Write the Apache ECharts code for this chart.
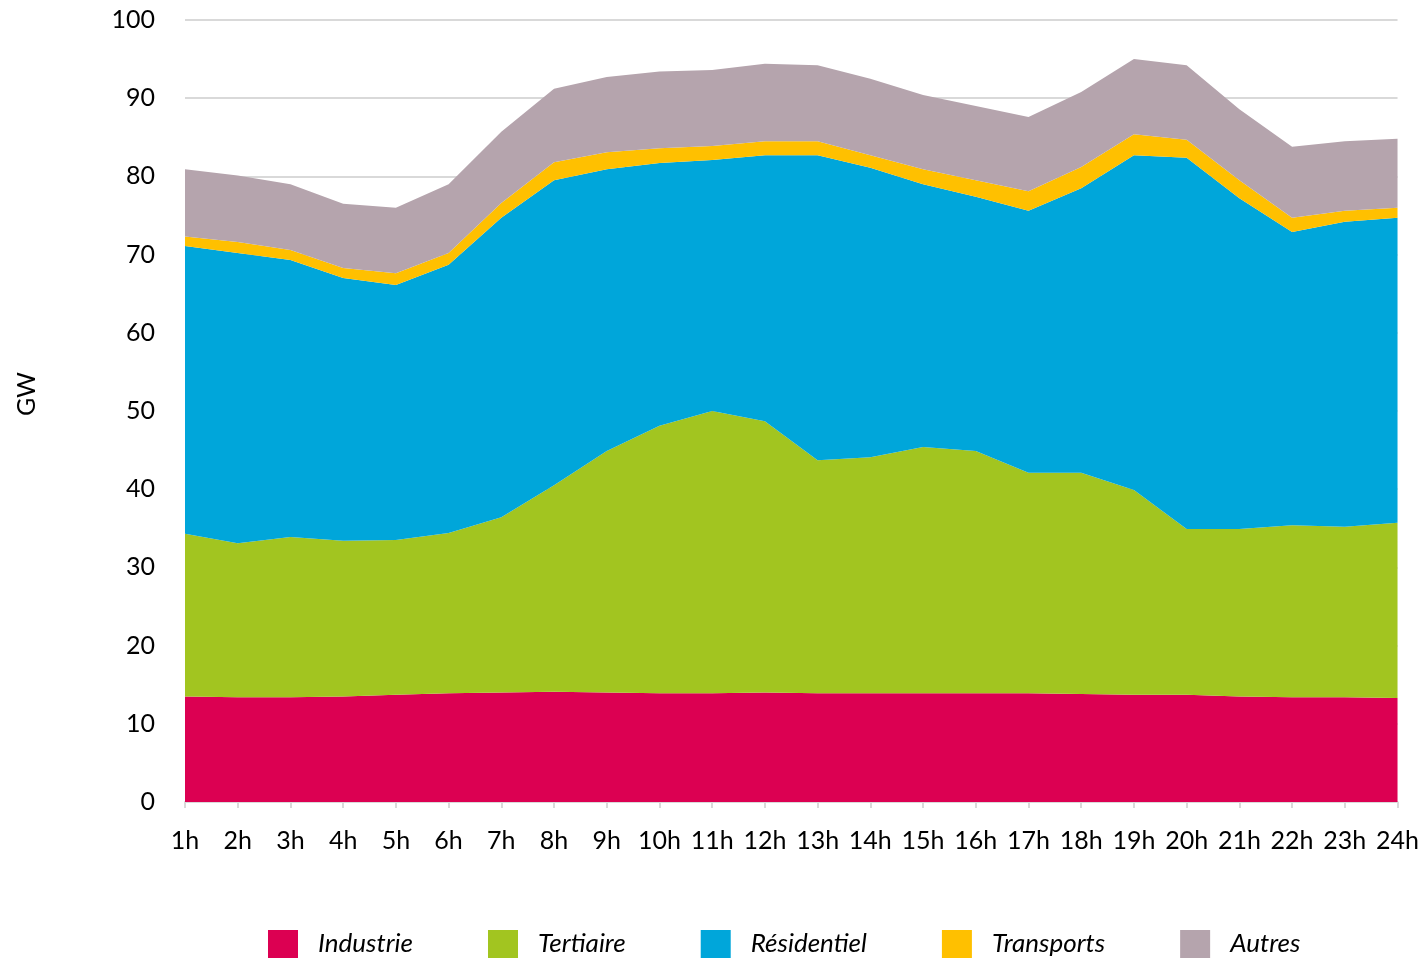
<!DOCTYPE html>
<html>
<head>
<meta charset="utf-8">
<script src="https://cdn.jsdelivr.net/npm/echarts@6/dist/echarts.min.js"></script>
<style>
html,body{margin:0;padding:0;background:#fff;}
#main{width:1422px;height:960px;}
</style>
</head>
<body>
<div id="main"></div>
<script>
var hours = ['1h','2h','3h','4h','5h','6h','7h','8h','9h','10h','11h','12h','13h','14h','15h','16h','17h','18h','19h','20h','21h','22h','23h','24h'];
var industrie = [13.5,13.4,13.4,13.5,13.7,13.9,14.0,14.1,14.0,13.9,13.9,14.0,13.9,13.9,13.9,13.9,13.9,13.8,13.7,13.7,13.5,13.4,13.4,13.3];
var tertiaire = [20.8,19.7,20.5,19.9,19.8,20.5,22.4,26.4,30.9,34.2,36.1,34.7,29.8,30.2,31.5,31.0,28.2,28.3,26.2,21.2,21.4,22.0,21.8,22.4];
var residentiel = [36.8,37.1,35.4,33.6,32.6,34.3,38.3,39.0,36.0,33.6,32.1,34.0,39.0,37.0,33.6,32.5,33.5,36.4,42.8,47.5,42.3,37.5,39.0,39.0];
var transports = [1.2,1.4,1.3,1.3,1.5,1.5,1.9,2.3,2.2,1.9,1.8,1.8,1.8,1.6,1.9,2.1,2.5,2.7,2.7,2.3,2.3,1.8,1.4,1.3];
var autres = [8.6,8.5,8.4,8.2,8.4,8.8,9.1,9.4,9.6,9.8,9.7,9.9,9.7,9.8,9.5,9.5,9.5,9.6,9.6,9.5,9.1,9.1,8.9,8.8];
var yTicks = [0,10,20,30,40,50,60,70,80,90,100];

var names = ['Industrie','Tertiaire','Résidentiel','Transports','Autres'];
var colors = ['#dc0052','#a2c520','#00a6da','#ffc000','#b5a4ad'];
var datas = [industrie, tertiaire, residentiel, transports, autres];

var FONT = 'Lato, "Open Sans", sans-serif';

var chart = echarts.init(document.getElementById('main'));
chart.setOption({
  animation: false,
  color: colors,
  grid: {left: 185, right: 24, top: 20, bottom: 158},
  graphic: [{
    type: 'text',
    left: 14,
    top: 372,
    rotation: Math.PI / 2,
    style: {text: 'GW', font: '25px Lato, "Open Sans", sans-serif', fill: '#000'}
  }],
  legend: {
    left: 268,
    top: 930,
    padding: 0,
    itemWidth: 30,
    itemHeight: 28,
    itemGap: 75,
    icon: 'rect',
    data: names,
    textStyle: {fontFamily: FONT, fontStyle: 'italic', fontSize: 26, color: '#000', padding: [0,0,0,15]}
  },
  xAxis: {
    type: 'category',
    boundaryGap: false,
    data: hours,
    axisLine: {lineStyle: {color: '#d9d9d9', width: 2}},
    axisTick: {show: true, length: 6, lineStyle: {color: '#d9d9d9', width: 2}},
    axisLabel: {fontFamily: FONT, fontSize: 25, color: '#000', margin: 26, interval: 0}
  },
  yAxis: {
    type: 'value',
    min: 0,
    max: 100,
    interval: 10,
    axisLine: {show: false},
    axisTick: {show: false},
    axisLabel: {fontFamily: FONT, fontSize: 25, color: '#000', margin: 30,
      formatter: function(v){ return yTicks.indexOf(v) >= 0 ? String(v) : ''; }},
    splitLine: {lineStyle: {color: '#d9d9d9', width: 2}}
  },
  series: datas.map(function(d, i){
    return {
      name: names[i],
      type: 'line',
      stack: 'total',
      data: d,
      symbol: 'none',
      lineStyle: {width: 0},
      areaStyle: {color: colors[i], opacity: 1},
      itemStyle: {color: colors[i]}
    };
  })
});
</script>
</body>
</html>
